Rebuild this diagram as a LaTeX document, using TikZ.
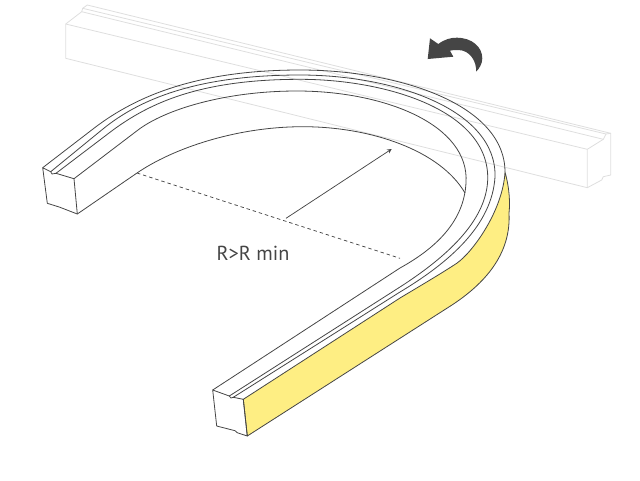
\documentclass[tikz,border=0pt]{standalone}
\usepackage{fontspec}
\setmainfont{PT Sans}
\usetikzlibrary{arrows, positioning}
\definecolor{stripyellow}{HTML}{FEEE83}
\definecolor{inkgray}{HTML}{454545}
\definecolor{ghostgray}{HTML}{DEDEDE}
\tikzset{
  edgeline/.style={line width=0.6pt, draw=inkgray, line join=round},
  ghostline/.style={line width=0.6pt, draw=ghostgray, line join=round},
  yellowface/.style={fill=stripyellow, draw=inkgray, line width=0.6pt, line join=round},
  turnarrow/.style={fill=inkgray, draw=none},
  radiusline/.style={line width=0.55pt, draw=inkgray, ->, >=stealth},
  centerline/.style={line width=0.55pt, draw=inkgray, dash pattern=on 2.6pt off 2.2pt},
  radiuslabel/.style={text=inkgray, font=\fontsize{15.2}{17}\selectfont, inner sep=0pt}
}
\begin{document}
\begin{tikzpicture}[x=0.75pt,y=-0.75pt]
\useasboundingbox (0,0) rectangle (640,480);

% Ghost bar (straight position)
\draw [ghostline] (65.7,24) -- (81.7,11.7) -- (82.7,8.3) -- (87.3,5) -- (610.7,133.3) -- (610.7,175) -- (603.3,176.7) -- (601.7,180) -- (587.3,187.7) -- (65.7,58.3) -- cycle;
\draw [ghostline] (65.7,24) -- (587.3,149.3) -- (587.3,187.7);
\draw [ghostline] (587.3,149.3) -- (603.3,139.3) -- (606,134) -- (610.7,133.3);
\draw [ghostline] (81.7,11.7) -- (603.3,139.3);
\draw [ghostline] (82.7,8.3) -- (606,134);

% Coordinates
\coordinate (frontA) at (212.7,390);
\coordinate (frontB) at (229.3,396);
\coordinate (frontC) at (233.3,397.3);
\coordinate (frontD) at (243.3,399.3);
\coordinate (frontE) at (247.3,436);
\coordinate (frontF) at (216.7,426);
\coordinate (backA) at (42.7,167.7);
\coordinate (backB) at (50.7,171.7);
\coordinate (backC) at (56,173.3);
\coordinate (backD) at (74,178.7);
\coordinate (backE) at (77.3,214);
\coordinate (backF) at (47.3,203.3);
\coordinate (bendtop) at (505,172);
\coordinate (innerstart) at (137,173);
\coordinate (innerend) at (465,193);
\coordinate (dashend) at (400,258.3);
\coordinate (radiusfoot) at (286,218.3);
\coordinate (radiustip) at (391.7,149);

% Yellow side
\draw [yellowface] (frontD) -- (400,298)
  .. controls (425,283) and (442,273) .. (456.7,263.3)
  .. controls (473,252) and (503,210) .. (bendtop)
  .. controls (510,190) and (510,205) .. (509,213)
  .. controls (511,250) and (490,280) .. (452,305)
  -- (frontE) -- cycle;

% Top face lines
\draw [edgeline] (backA) -- (91.7,130)
  .. controls (130,100) and (190,70) .. (300,70)
  .. controls (400,70) and (505,105) .. (bendtop);
\draw [edgeline] (backB) -- (101.7,130)
  .. controls (138,100) and (195,75) .. (300,75)
  .. controls (395,75) and (497,110) .. (495,177)
  .. controls (492,225) and (450,262) .. (400,292) -- (frontC);
\draw [edgeline] (backC) -- (113,130)
  .. controls (150,103) and (200,79.3) .. (300,79.3)
  .. controls (385,79.3) and (490,110) .. (487.7,180)
  .. controls (486,222) and (445,258) .. (400,287) -- (frontB);
\draw [edgeline] (backD) -- (138,130)
  .. controls (165,109.5) and (225,91) .. (297,91)
  .. controls (385,91) and (470,125) .. (466,183)
  .. controls (464,220) and (438,247) .. (400,268) -- (frontA);

% Inner wall
\draw [edgeline] (backE) -- (innerstart)
  .. controls (172,149) and (235,126.7) .. (303,126.7)
  .. controls (370,126.7) and (440,150) .. (innerend);

% End faces
\draw [edgeline] (backA) -- (backB) -- (52,174) -- (backC) -- (backD) -- (backE) -- (60,207.3) -- (56,206) -- (backF) -- cycle;
\draw [edgeline] (frontA) -- (frontB) -- (231,398) -- (frontC) -- (frontD) -- (frontE) -- (237.3,432.7) -- (235,430.7) -- (frontF) -- cycle;

% Radius
\draw [centerline] (innerstart) -- (dashend);
\draw [radiusline] (radiusfoot) -- (radiustip);
\node (radiustext) [radiuslabel] at (253,253) {R>R min};

% Turn arrow
\fill [turnarrow] (430,38.3) -- (438.3,44)
  .. controls (445,39) and (451,37.7) .. (456.7,37.7)
  .. controls (472,37.7) and (482.3,47) .. (482.3,58.3)
  .. controls (482.3,64) and (479,69) .. (476,71.7)
  .. controls (477,62) and (470,50) .. (458.3,50)
  .. controls (455,50) and (452,50) .. (450,50.7)
  -- (453.3,56.7) -- (427.7,59) -- cycle;
\end{tikzpicture}
\end{document}
